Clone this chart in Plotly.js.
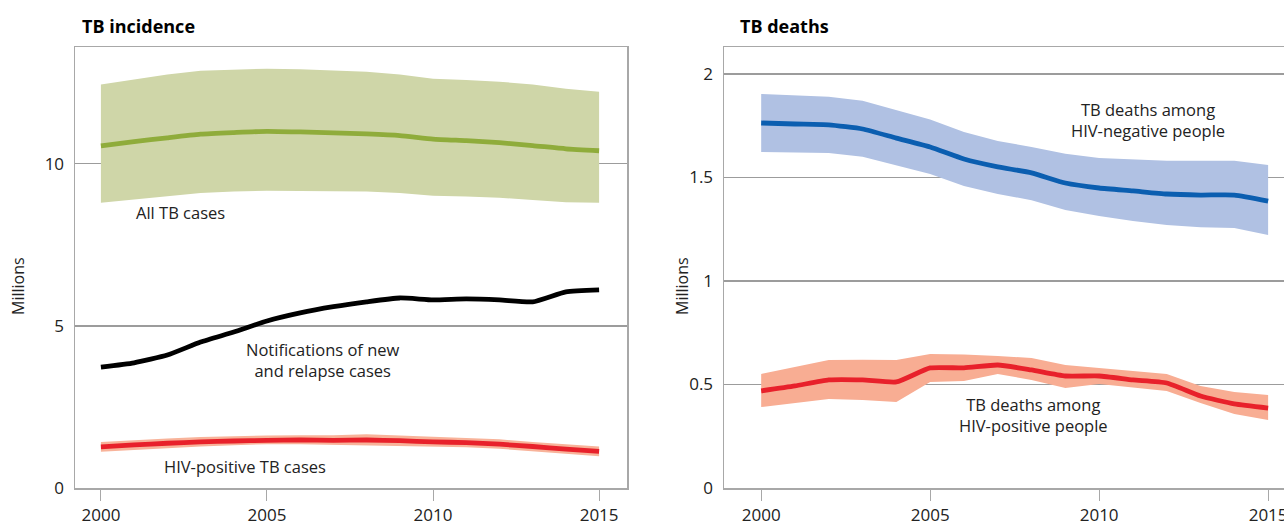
<!DOCTYPE html>
<html><head><meta charset="utf-8">
<script src="https://cdn.plot.ly/plotly-3.0.1.min.js"></script>
<style>html,body{margin:0;padding:0;background:#fff;}#chart{width:1284px;height:527px;}</style>
</head><body><div id="chart"></div>
<script>
const years = [2000,2001,2002,2003,2004,2005,2006,2007,2008,2009,2010,2011,2012,2013,2014,2015];

// TB incidence (millions)
const allTB      = [10.55,10.68,10.80,10.91,10.96,11.00,10.98,10.95,10.92,10.87,10.76,10.71,10.65,10.56,10.46,10.40];
const allTBHigh  = [12.44,12.60,12.75,12.87,12.91,12.93,12.91,12.88,12.84,12.75,12.62,12.58,12.53,12.44,12.31,12.22];
const allTBLow   = [8.80,8.90,8.98,9.10,9.14,9.17,9.16,9.15,9.14,9.10,9.01,8.99,8.95,8.88,8.81,8.80];
const notified   = [3.73,3.86,4.10,4.50,4.81,5.15,5.40,5.59,5.74,5.86,5.80,5.83,5.80,5.74,6.05,6.11];
const hivTB      = [1.27,1.33,1.38,1.42,1.45,1.47,1.48,1.47,1.48,1.46,1.42,1.40,1.35,1.28,1.20,1.13];
const hivTBHigh  = [1.42,1.48,1.53,1.57,1.60,1.62,1.63,1.63,1.66,1.62,1.58,1.55,1.50,1.42,1.34,1.28];
const hivTBLow   = [1.12,1.18,1.23,1.28,1.32,1.35,1.35,1.33,1.32,1.31,1.28,1.26,1.21,1.14,1.06,0.98];

// TB deaths (millions)
const deathNeg     = [1.763,1.758,1.754,1.734,1.690,1.647,1.589,1.551,1.522,1.473,1.449,1.435,1.420,1.415,1.415,1.386];
const deathNegHigh = [1.903,1.897,1.890,1.870,1.826,1.780,1.720,1.676,1.647,1.614,1.594,1.587,1.580,1.580,1.580,1.560];
const deathNegLow  = [1.623,1.620,1.618,1.600,1.560,1.517,1.459,1.420,1.390,1.343,1.314,1.290,1.270,1.260,1.256,1.222];
const deathPos     = [0.469,0.493,0.522,0.522,0.512,0.580,0.580,0.594,0.570,0.541,0.541,0.522,0.507,0.444,0.406,0.386];
const deathPosHigh = [0.551,0.585,0.618,0.620,0.618,0.647,0.645,0.638,0.628,0.594,0.580,0.565,0.551,0.493,0.464,0.449];
const deathPosLow  = [0.391,0.411,0.430,0.425,0.415,0.512,0.517,0.551,0.522,0.483,0.502,0.485,0.469,0.410,0.357,0.329];

const yTicksL = [0,5,10];
const yTicksR = [0,0.5,1,1.5,2];
const yTicksRText = ['0','0.5','1','1.5','2'];
const xTicks = [2000,2005,2010,2015];

const FONT = 'Open Sans, Liberation Sans, sans-serif';

function band(x, lo, hi, fill, xa, ya){
  return [
    {x:x, y:lo, type:'scatter', mode:'lines', line:{width:0, color:fill}, xaxis:xa, yaxis:ya, hoverinfo:'skip', showlegend:false},
    {x:x, y:hi, type:'scatter', mode:'lines', line:{width:0, color:fill}, fill:'tonexty', fillcolor:fill, xaxis:xa, yaxis:ya, hoverinfo:'skip', showlegend:false}
  ];
}
function line(x, y, color, xa, ya){
  return {x:x, y:y, type:'scatter', mode:'lines', line:{width:4.8, color:color, shape:'spline', smoothing:0.5}, xaxis:xa, yaxis:ya, showlegend:false};
}

const data = [].concat(
  band(years, allTBLow, allTBHigh, '#cfd6a8', 'x', 'y'),
  [line(years, allTB, '#8fac3b', 'x', 'y')],
  band(years, hivTBLow, hivTBHigh, '#f8b39a', 'x', 'y'),
  [line(years, notified, '#000000', 'x', 'y')],
  [line(years, hivTB, '#e8212b', 'x', 'y')],
  band(years, deathNegLow, deathNegHigh, '#b0c1e3', 'x2', 'y2'),
  [line(years, deathNeg, '#0b5eb0', 'x2', 'y2')],
  band(years, deathPosLow, deathPosHigh, '#f8ad93', 'x2', 'y2'),
  [line(years, deathPos, '#e8212b', 'x2', 'y2')]
);

const gridC = '#9c9c9c';
const frameC = '#a8a8a8';
const yDom = [39/527, 480/527];

const xBase = {
  tickmode:'array', tickvals:xTicks, ticktext:xTicks.map(String),
  ticks:'outside', ticklen:11, tickwidth:1, tickcolor:frameC, ticklabeloverflow:'allow',
  showgrid:false, zeroline:false, showline:true, linecolor:frameC, linewidth:1.5,
  tickfont:{family:FONT, size:17, color:'#222'}, fixedrange:true
};
const yBase = {
  showgrid:true, gridcolor:gridC, gridwidth:1.5, zeroline:false,
  showline:true, linecolor:frameC, linewidth:1.5, ticks:'', ticklabelstandoff:6,
  tickfont:{family:FONT, size:17, color:'#222'}, fixedrange:true
};

const annFont = {family:FONT, size:16.5, color:'#222'};

const layout = {
  width:1284, height:527,
  margin:{l:0, r:0, t:0, b:0},
  paper_bgcolor:'#fff', plot_bgcolor:'#fff',
  showlegend:false,
  xaxis: Object.assign({}, xBase, {domain:[75/1284, 627/1284], range:[1999.22, 2015.84], mirror:true, anchor:'y'}),
  yaxis: Object.assign({}, yBase, {domain:yDom, range:[0, 13.6], tickmode:'array', tickvals:yTicksL, ticktext:yTicksL.map(String), mirror:true, anchor:'x'}),
  xaxis2: Object.assign({}, xBase, {domain:[724/1284, 1], range:[1998.9, 2015.47], mirror:true, anchor:'y2'}),
  yaxis2: Object.assign({}, yBase, {domain:yDom, range:[0, 2.13], tickmode:'array', tickvals:yTicksR, ticktext:yTicksRText, mirror:false, anchor:'x2'}),
  annotations:[
    {xref:'paper', yref:'paper', x:80/1284, y:1-26/527, xanchor:'left', yanchor:'middle', showarrow:false,
     text:'<b>TB incidence</b>', font:{family:FONT, size:18, color:'#000'}},
    {xref:'paper', yref:'paper', x:738/1284, y:1-26/527, xanchor:'left', yanchor:'middle', showarrow:false,
     text:'<b>TB deaths</b>', font:{family:FONT, size:18, color:'#000'}},
    {xref:'paper', yref:'paper', x:18/1284, y:1-286/527, xanchor:'center', yanchor:'middle', showarrow:false, textangle:-90,
     text:'Millions', font:{family:FONT, size:16, color:'#222'}},
    {xref:'paper', yref:'paper', x:682/1284, y:1-286/527, xanchor:'center', yanchor:'middle', showarrow:false, textangle:-90,
     text:'Millions', font:{family:FONT, size:16, color:'#222'}},
    {xref:'x', yref:'y', x:2002.41, y:8.49, showarrow:false, text:'All TB cases', font:annFont},
    {xref:'x', yref:'y', x:2006.69, y:3.95, showarrow:false, text:'Notifications of new<br>and relapse cases', font:annFont},
    {xref:'x', yref:'y', x:2004.34, y:0.65, showarrow:false, text:'HIV-positive TB cases', font:annFont},
    {xref:'x2', yref:'y2', x:2011.44, y:1.778, showarrow:false, text:'TB deaths among<br>HIV-negative people', font:annFont},
    {xref:'x2', yref:'y2', x:2008.07, y:0.353, showarrow:false, text:'TB deaths among<br>HIV-positive people', font:annFont}
  ]
};

Plotly.newPlot('chart', data, layout, {staticPlot:true, displayModeBar:false});
</script>
</body></html>
